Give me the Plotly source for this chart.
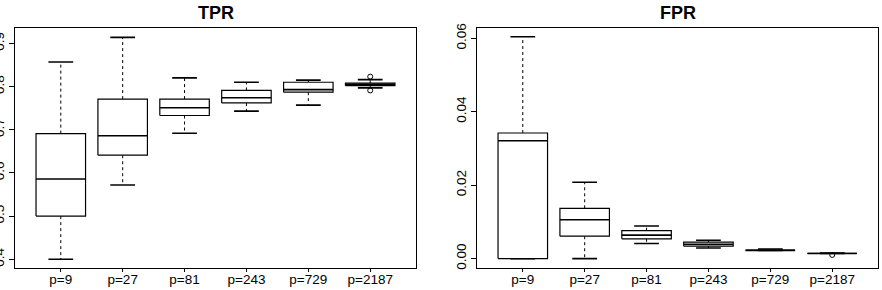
import plotly.graph_objects as go

categories = ["p=9", "p=27", "p=81", "p=243", "p=729", "p=2187"]

tpr_lower = [0.400, 0.572, 0.692, 0.743, 0.757, 0.797]
tpr_q1 = [0.500, 0.641, 0.733, 0.762, 0.787, 0.802]
tpr_med = [0.586, 0.686, 0.751, 0.774, 0.793, 0.805]
tpr_q3 = [0.691, 0.771, 0.771, 0.791, 0.810, 0.808]
tpr_upper = [0.857, 0.914, 0.820, 0.810, 0.815, 0.816]
tpr_outliers = [[], [], [], [], [], [0.823, 0.791]]

fpr_lower = [0.0, 0.0, 0.0041, 0.0029, 0.0022, 0.0014]
fpr_q1 = [0.0, 0.0061, 0.0054, 0.0034, 0.0022, 0.0014]
fpr_med = [0.0321, 0.0106, 0.0064, 0.0039, 0.0023, 0.0014]
fpr_q3 = [0.0342, 0.0137, 0.0076, 0.0045, 0.0024, 0.0014]
fpr_upper = [0.0604, 0.0208, 0.0089, 0.0050, 0.0026, 0.0015]
fpr_outliers = [[], [], [], [], [], [0.0010]]

tpr_ticks = [0.4, 0.5, 0.6, 0.7, 0.8, 0.9]
fpr_ticks = [0.00, 0.02, 0.04, 0.06]
fpr_ticklabels = ["0.00", "0.02", "0.04", "0.06"]

FONT = "Liberation Sans, Arial, Helvetica, sans-serif"
HALF = 0.4
CAP = 0.2

fig = go.Figure()


def add_boxes(xa, ya, lo, q1, med, q3, up, outl):
    for i in range(len(categories)):
        x = i + 1
        # whiskers (dashed)
        fig.add_trace(go.Scatter(
            x=[x, x, None, x, x], y=[q3[i], up[i], None, q1[i], lo[i]],
            mode="lines", line=dict(color="black", width=1, dash="3px,3px"),
            xaxis=xa, yaxis=ya, showlegend=False, hoverinfo="skip"))
        # caps
        fig.add_trace(go.Scatter(
            x=[x - CAP, x + CAP, None, x - CAP, x + CAP],
            y=[up[i], up[i], None, lo[i], lo[i]],
            mode="lines", line=dict(color="black", width=1.6),
            xaxis=xa, yaxis=ya, showlegend=False, hoverinfo="skip"))
        # box
        fig.add_trace(go.Scatter(
            x=[x - HALF, x + HALF, x + HALF, x - HALF, x - HALF],
            y=[q1[i], q1[i], q3[i], q3[i], q1[i]],
            mode="lines", fill="toself", fillcolor="white",
            line=dict(color="black", width=1.2),
            xaxis=xa, yaxis=ya, showlegend=False, hoverinfo="skip"))
        # median
        fig.add_trace(go.Scatter(
            x=[x - HALF, x + HALF], y=[med[i], med[i]],
            mode="lines", line=dict(color="black", width=1.6),
            xaxis=xa, yaxis=ya, showlegend=False, hoverinfo="skip"))
        if outl[i]:
            fig.add_trace(go.Scatter(
                x=[x] * len(outl[i]), y=outl[i], mode="markers",
                marker=dict(symbol="circle-open", size=5, color="black",
                            line=dict(width=1)),
                xaxis=xa, yaxis=ya, showlegend=False, hoverinfo="skip"))


add_boxes("x", "y", tpr_lower, tpr_q1, tpr_med, tpr_q3, tpr_upper, tpr_outliers)
add_boxes("x2", "y2", fpr_lower, fpr_q1, fpr_med, fpr_q3, fpr_upper, fpr_outliers)

W, H = 882, 290
d1 = [15 / W, 416 / W]
d2 = [477 / W, 878 / W]
dy = [1 - 267.5 / H, 1 - 28 / H]

xcommon = dict(
    range=[0.26, 6.74], tickvals=list(range(1, 7)), ticktext=categories,
    showline=True, mirror=True, linecolor="black", linewidth=1,
    ticks="outside", ticklen=3, tickcolor="black", tickwidth=1,
    showgrid=False, zeroline=False, automargin=False,
    ticklabelstandoff=-4,
    tickfont=dict(family=FONT, size=13.5, color="black"),
)
ycommon = dict(
    showline=True, mirror=True, linecolor="black", linewidth=1,
    ticks="outside", ticklen=5, tickcolor="black", tickwidth=1,
    showgrid=False, zeroline=False, automargin=False, tickangle=-90,
    tickfont=dict(family=FONT, size=13.5, color="black"),
)

fig.update_layout(
    template="none",
    width=W, height=H,
    margin=dict(l=0, r=0, t=0, b=0),
    paper_bgcolor="white", plot_bgcolor="white",
    showlegend=False,
    xaxis=dict(domain=d1, anchor="y", **xcommon),
    yaxis=dict(domain=dy, anchor="x", range=[0.381, 0.9356],
               tickvals=tpr_ticks, ticktext=[f"{v:.1f}" for v in tpr_ticks],
               **ycommon),
    xaxis2=dict(domain=d2, anchor="y2", **xcommon),
    yaxis2=dict(domain=dy, anchor="x2", range=[-0.00242, 0.0628],
                tickvals=fpr_ticks, ticktext=fpr_ticklabels, **ycommon),
    annotations=[
        dict(text="<b>TPR</b>", x=(d1[0] + d1[1]) / 2, y=1 - 12.5 / H,
             xref="paper", yref="paper", showarrow=False,
             xanchor="center", yanchor="middle",
             font=dict(family=FONT, size=18, color="black")),
        dict(text="<b>FPR</b>", x=(d2[0] + d2[1]) / 2, y=1 - 12.5 / H,
             xref="paper", yref="paper", showarrow=False,
             xanchor="center", yanchor="middle",
             font=dict(family=FONT, size=18, color="black")),
    ],
)

fig.write_html("out.html")
